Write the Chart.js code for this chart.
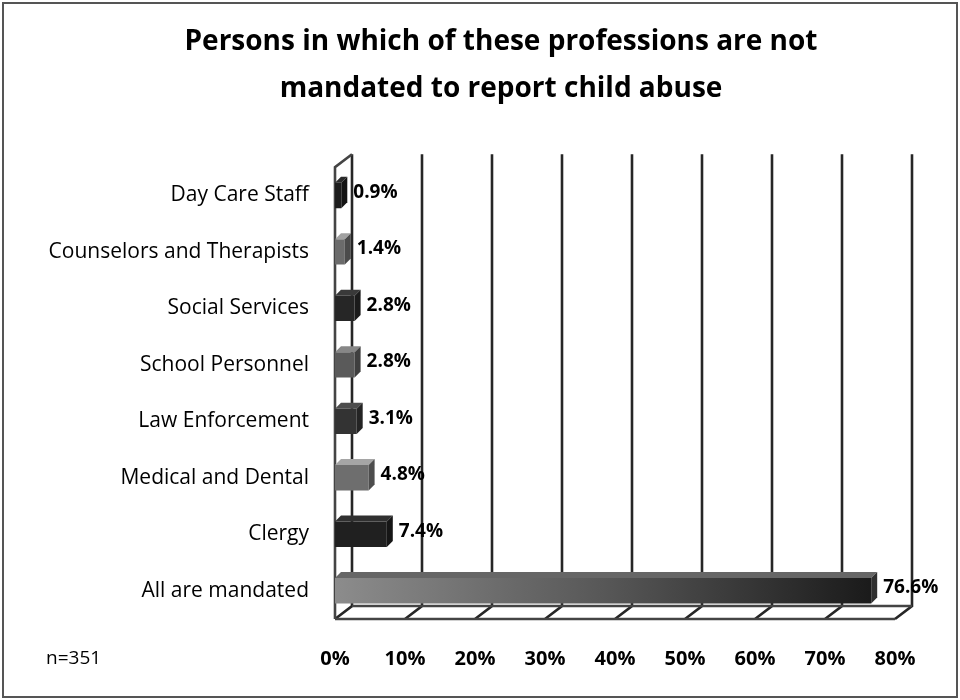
<!DOCTYPE html>
<html><head><meta charset="utf-8">
<script src="https://cdn.jsdelivr.net/npm/chart.js@4/dist/chart.umd.min.js"></script>
<style>html,body{margin:0;padding:0;background:#fff}#wrap{width:960px;height:700px}</style>
</head><body><div id="wrap"><canvas id="c" width="960" height="700"></canvas></div>
<script>
const categories = ["Day Care Staff","Counselors and Therapists","Social Services","School Personnel","Law Enforcement","Medical and Dental","Clergy","All are mandated"];
const percentValues = [0.9,1.4,2.8,2.8,3.1,4.8,7.4,76.6];
const tickValues = [0,10,20,30,40,50,60,70,80];
const titleLines = ["Persons in which of these professions are not","mandated to report child abuse"];
const sampleNote = "n=351";
const barShades = ['#1c1c1c','#6b6b6b','#262626','#5a5a5a','#333333','#6e6e6e','#202020','#444444'];

const DX = 17, DY = 13, BD = 6;
const FONT = "'Open Sans', Lato, 'DejaVu Sans', sans-serif";

function shade(hex, f) {
  const n = parseInt(hex.slice(1), 16);
  const r = Math.min(255, Math.round(((n >> 16) & 255) * f));
  const g = Math.min(255, Math.round(((n >> 8) & 255) * f));
  const b = Math.min(255, Math.round((n & 255) * f));
  return `rgb(${r},${g},${b})`;
}

const frame3d = {
  id: 'frame3d',
  beforeDraw(chart) {
    const ctx = chart.ctx;
    ctx.save();
    ctx.strokeStyle = '#555';
    ctx.lineWidth = 2;
    ctx.strokeRect(3, 3, chart.width - 6, chart.height - 6);
    ctx.restore();
  },
  beforeDatasetsDraw(chart) {
    const {ctx, chartArea: a, scales: {x}} = chart;
    ctx.save();
    ctx.strokeStyle = '#262626';
    ctx.lineWidth = 2.6;
    const x0 = x.getPixelForValue(tickValues[0]);
    const xN = x.getPixelForValue(tickValues[tickValues.length - 1]);
    tickValues.forEach(v => {
      const px = x.getPixelForValue(v);
      ctx.beginPath();
      ctx.moveTo(px + DX, a.top - DY);
      ctx.lineTo(px + DX, a.bottom - DY);
      ctx.lineTo(px, a.bottom);
      ctx.stroke();
    });
    ctx.strokeStyle = '#444';
    ctx.beginPath();
    ctx.moveTo(x0, a.bottom); ctx.lineTo(xN, a.bottom);
    ctx.moveTo(x0 + DX, a.bottom - DY); ctx.lineTo(xN + DX, a.bottom - DY);
    ctx.stroke();
    ctx.beginPath();
    ctx.moveTo(x0, a.bottom); ctx.lineTo(x0, a.top); ctx.lineTo(x0 + DX, a.top - DY);
    ctx.stroke();
    ctx.restore();
  },
  afterDatasetsDraw(chart) {
    const {ctx} = chart;
    const meta = chart.getDatasetMeta(0);
    ctx.save();
    meta.data.forEach((bar, i) => {
      const h = bar.height, top = bar.y - h / 2, bot = bar.y + h / 2;
      const xl = bar.base, xr = bar.x;
      const c = barShades[i];
      ctx.fillStyle = shade(c, 1.5);
      ctx.beginPath();
      ctx.moveTo(xl, top); ctx.lineTo(xr, top); ctx.lineTo(xr + BD, top - BD); ctx.lineTo(xl + BD, top - BD);
      ctx.closePath(); ctx.fill();
      ctx.fillStyle = shade(c, 0.7);
      ctx.beginPath();
      ctx.moveTo(xr, top); ctx.lineTo(xr + BD, top - BD); ctx.lineTo(xr + BD, bot - BD); ctx.lineTo(xr, bot);
      ctx.closePath(); ctx.fill();
    });
    ctx.fillStyle = '#000';
    ctx.font = "bold 19px " + FONT;
    ctx.textBaseline = 'middle';
    ctx.textAlign = 'left';
    meta.data.forEach((bar, i) => {
      ctx.fillText(percentValues[i].toFixed(1) + '%', bar.x + BD + 6, bar.y - 3);
    });
    ctx.font = "19px " + FONT;
    ctx.fillText(sampleNote, 46, 659);
    ctx.restore();
  }
};

new Chart(document.getElementById('c'), {
  type: 'bar',
  data: {
    labels: categories,
    datasets: [{
      data: percentValues,
      yAxisID: 'y',
      backgroundColor: (c) => {
        const i = c.dataIndex;
        const ch = c.chart;
        if (i === percentValues.length - 1 && ch.chartArea) {
          const g = ch.ctx.createLinearGradient(ch.chartArea.left, 0, ch.chartArea.right, 0);
          g.addColorStop(0, '#8c8c8c');
          g.addColorStop(0.5, '#555555');
          g.addColorStop(1, '#151515');
          return g;
        }
        return barShades[i];
      },
      borderWidth: 0,
      categoryPercentage: 1,
      barPercentage: 0.45
    }]
  },
  options: {
    responsive: false,
    animation: false,
    devicePixelRatio: 1,
    indexAxis: 'y',
    layout: { padding: { left: 42, right: 0, top: 0, bottom: 0 } },
    plugins: {
      legend: { display: false },
      tooltip: { enabled: false },
      title: {
        display: true,
        text: titleLines,
        color: '#000',
        font: { family: FONT, size: 28, weight: 'bold', lineHeight: 1.7 },
        padding: { top: 18, bottom: 54 }
      }
    },
    scales: {
      x: {
        min: 0, max: 80,
        grid: { display: false, drawTicks: false },
        border: { display: false },
        afterBuildTicks: (s) => { s.ticks = tickValues.map(v => ({ value: v })); },
        afterFit: (s) => { s.height = 81; },
        ticks: {
          color: '#000',
          font: { family: FONT, size: 20, weight: 'bold' },
          padding: 28,
          callback: (v) => v + '%'
        }
      },
      y: {
        grid: { display: false, drawTicks: false },
        border: { display: false },
        afterFit: (s) => { s.width = 293; },
        ticks: {
          color: '#000',
          font: { family: FONT, size: 21 },
          padding: 26
        }
      },
      yRight: {
        type: 'category',
        position: 'right',
        display: true,
        grid: { display: false, drawTicks: false },
        border: { display: false },
        ticks: { display: false },
        afterFit: (s) => { s.width = 65; }
      }
    }
  },
  plugins: [frame3d]
});
</script>
</body></html>
